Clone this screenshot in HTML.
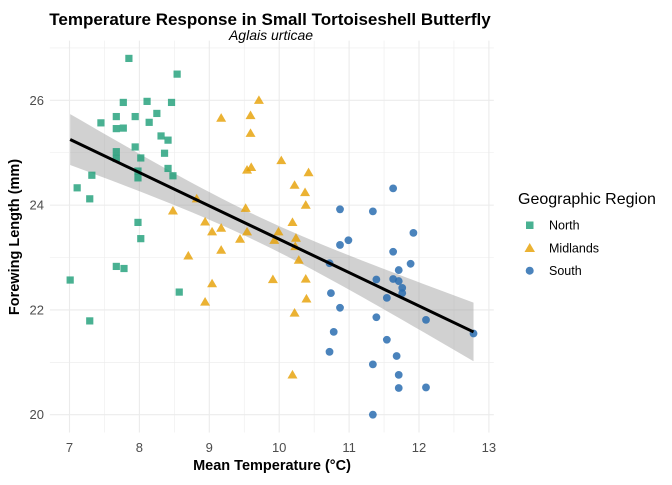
<!DOCTYPE html>
<html><head><meta charset="utf-8"><style>
body{margin:0;background:#fff;font-family:"Liberation Sans",Arial,sans-serif}
</style></head><body>
<svg id="c" width="672" height="480" xmlns="http://www.w3.org/2000/svg" font-family="Liberation Sans, Arial, sans-serif"></svg>
<script>
const northX=[7.85,8.54,7.77,8.11,8.46,7.67,7.94,8.25,7.45,7.67,7.77,8.14,8.31,8.41,7.94,8.36,7.67,7.67,8.02,8.41,7.98,8.48,7.98,7.32,7.11,7.29,7.98,8.02,7.67,7.78,7.01,8.57,7.29];
const northY=[26.80,26.50,25.96,25.98,25.96,25.69,25.69,25.75,25.57,25.46,25.47,25.58,25.32,25.24,25.11,24.99,25.02,24.89,24.90,24.70,24.65,24.56,24.52,24.57,24.33,24.12,23.67,23.36,22.83,22.79,22.57,22.34,21.79];
const midX=[9.71,9.17,9.59,9.59,9.54,9.60,8.82,8.48,9.52,8.94,9.04,9.17,9.44,9.54,9.17,8.70,9.04,8.94,9.91,10.03,10.42,10.22,10.37,10.38,10.19,9.99,9.93,10.24,10.23,10.28,10.38,10.39,10.22,10.19];
const midY=[26.00,25.66,25.71,25.37,24.67,24.72,24.12,23.89,23.94,23.68,23.49,23.56,23.35,23.49,23.14,23.03,22.50,22.15,22.58,24.85,24.62,24.38,24.24,24.00,23.67,23.49,23.33,23.37,23.21,22.95,22.59,22.21,21.94,20.76];
const southX=[11.63,10.87,11.34,11.92,10.87,10.99,11.63,11.88,10.72,11.71,11.39,11.63,11.71,11.76,11.76,11.54,10.74,10.87,11.39,12.10,12.78,10.78,11.54,10.72,11.68,11.34,11.71,11.71,12.10,11.34];
const southY=[24.32,23.92,23.88,23.47,23.24,23.33,23.11,22.88,22.89,22.76,22.58,22.59,22.55,22.42,22.32,22.23,22.32,22.04,21.86,21.81,21.55,21.58,21.43,21.20,21.12,20.96,20.76,20.51,20.52,20.00];
const xTicks=[7,8,9,10,11,12,13];
const yTicks=[20,22,24,26];
const svg=document.getElementById('c');
const NS='http://www.w3.org/2000/svg';
const X0=49.9,X1=493.8,XD0=6.72,XD1=13.07,Y0=432.5,Y1=40.6,YD0=19.66,YD1=27.14;
const sx=v=>X0+(v-XD0)/(XD1-XD0)*(X1-X0);
const sy=v=>Y0-(v-YD0)/(YD1-YD0)*(Y0-Y1);
function mk(t,a,p){const e=document.createElementNS(NS,t);for(const k in a)e.setAttribute(k,a[k]);(p||svg).appendChild(e);return e;}
const grid=mk('g',{});


for(let v=6.5;v<=13.1;v+=0.5){if(v<XD0)continue;const maj=Number.isInteger(v);mk('line',{x1:sx(v),x2:sx(v),y1:Y1,y2:Y0,stroke:'#ebebeb','stroke-width':maj?1.1:0.55},grid);}
for(let v=20;v<=27;v+=1){const maj=v%2==0;mk('line',{x1:X0,x2:X1,y1:sy(v),y2:sy(v),stroke:'#ebebeb','stroke-width':maj?1.1:0.55},grid);}
const allX=northX.concat(midX,southX),allY=northY.concat(midY,southY);
const n=allX.length,mx=allX.reduce((a,b)=>a+b)/n,my=allY.reduce((a,b)=>a+b)/n;
let sxx=0,sxy=0;for(let i=0;i<n;i++){sxx+=(allX[i]-mx)**2;sxy+=(allX[i]-mx)*(allY[i]-my);}
const b=sxy/sxx,a=my-b*mx;let sse=0;for(let i=0;i<n;i++)sse+=(allY[i]-a-b*allX[i])**2;
const s=Math.sqrt(sse/(n-2)),t=1.987;
const xmin=Math.min(...allX),xmax=Math.max(...allX);
let up=[],lo=[];for(let k=0;k<=40;k++){const x=xmin+(xmax-xmin)*k/40;const f=a+b*x;const se=s*Math.sqrt(1/n+(x-mx)**2/sxx);up.push(sx(x)+','+sy(f+t*se));lo.unshift(sx(x)+','+sy(f-t*se));}
const band=mk('polygon',{points:up.concat(lo).join(' '),fill:'#999','fill-opacity':0.45});


function pts(xs,ys,col,shape,name){const g=mk('g',{});
for(let i=0;i<xs.length;i++){const cx=sx(xs[i]),cy=sy(ys[i]);let e;
if(shape=='sq')e=mk('rect',{x:cx-3.6,y:cy-3.6,width:7.2,height:7.2,fill:col,'fill-opacity':0.8},g);
else if(shape=='tri')e=mk('polygon',{points:`${cx},${cy-5} ${cx-5},${cy+3.6} ${cx+5},${cy+3.6}`,fill:col,'fill-opacity':0.8},g);
else e=mk('circle',{cx:cx,cy:cy,r:3.9,fill:col,'fill-opacity':0.85},g);

}}
pts(northX,northY,'#1b9e77','sq','north-points');
pts(midX,midY,'#e69f00','tri','midlands-points');
pts(southX,southY,'#2a6db0','ci','south-points');
const rl=mk('line',{x1:sx(xmin),y1:sy(a+b*xmin),x2:sx(xmax),y2:sy(a+b*xmax),stroke:'#000','stroke-width':3});


xTicks.forEach(v=>{const e=mk('text',{x:sx(v),y:452,'text-anchor':'middle','font-size':13,fill:'#4d4d4d'});e.textContent=v;

});
yTicks.forEach(v=>{const e=mk('text',{x:44,y:sy(v)+4.5,'text-anchor':'end','font-size':13,fill:'#4d4d4d'});e.textContent=v;

});
</script>
<svg width="672" height="480" style="position:absolute;left:0;top:0" font-family="Liberation Sans, Arial, sans-serif">
<text x="270" y="25" text-anchor="middle" font-size="17" font-weight="bold">Temperature Response in Small Tortoiseshell Butterfly</text>
<text x="271" y="40" text-anchor="middle" font-size="14" font-style="italic">Aglais urticae</text>
<text x="272" y="470" text-anchor="middle" font-size="14.5" font-weight="bold">Mean Temperature (°C)</text>
<text transform="translate(19,237) rotate(-90)" text-anchor="middle" font-size="14.5" font-weight="bold">Forewing Length (mm)</text>
<g>
<text x="518" y="204" font-size="16">Geographic Region</text>
<g><rect x="526" y="221.5" width="7.5" height="7.5" fill="#1b9e77" fill-opacity="0.8"/><text x="549" y="229.5" font-size="12.5">North</text></g>
<g><polygon points="529.7,243 524.5,252 535,252" fill="#e69f00" fill-opacity="0.8"/><text x="549" y="252.5" font-size="12.5">Midlands</text></g>
<g><circle cx="529.7" cy="270.7" r="4" fill="#2a6db0" fill-opacity="0.85"/><text x="549" y="275" font-size="12.5">South</text></g>
</g>
</svg>
</body></html>
